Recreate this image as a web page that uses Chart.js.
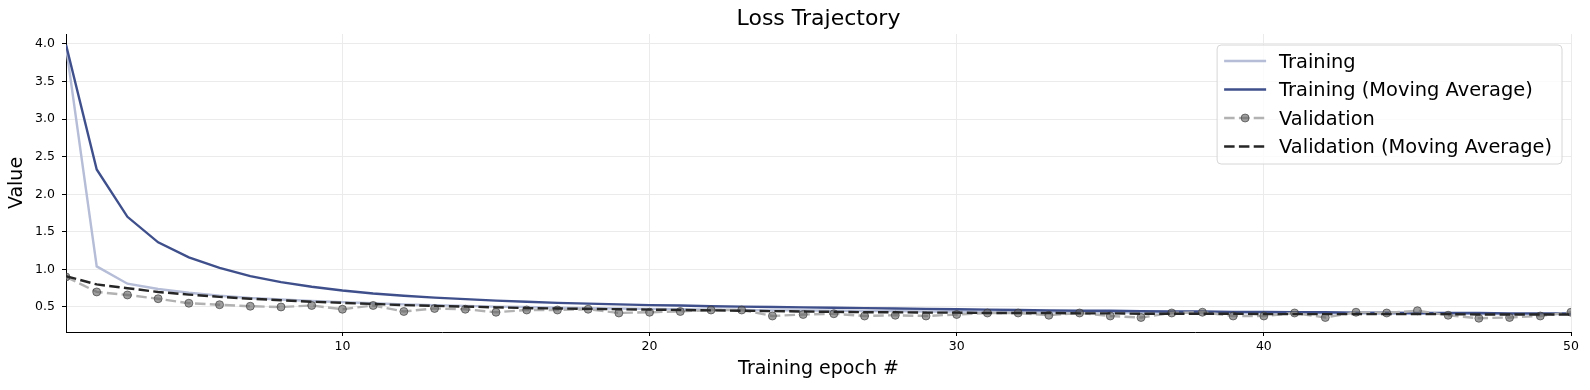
<!DOCTYPE html>
<html>
<head>
<meta charset="utf-8">
<title>Loss Trajectory</title>
<script src="https://cdn.jsdelivr.net/npm/chart.js@4.4.1/dist/chart.umd.min.js"></script>
<style>
  html, body { margin: 0; padding: 0; background: #fff; }
  #wrap { width: 1590px; height: 390px; }
</style>
</head>
<body>
<div id="wrap"><canvas id="loss-chart" width="1590" height="390"></canvas></div>
<script>
"use strict";

var epochs = [1, 2, 3, 4, 5, 6, 7, 8, 9, 10,
  11, 12, 13, 14, 15, 16, 17, 18, 19, 20,
  21, 22, 23, 24, 25, 26, 27, 28, 29, 30,
  31, 32, 33, 34, 35, 36, 37, 38, 39, 40,
  41, 42, 43, 44, 45, 46, 47, 48, 49, 50];

var training = [3.97, 1.04, 0.81, 0.74, 0.69, 0.65, 0.62, 0.60, 0.58, 0.565,
  0.55, 0.535, 0.525, 0.515, 0.505, 0.50, 0.49, 0.485, 0.48, 0.475,
  0.47, 0.465, 0.46, 0.455, 0.455, 0.45, 0.445, 0.445, 0.44, 0.44,
  0.435, 0.435, 0.43, 0.43, 0.43, 0.425, 0.425, 0.42, 0.42, 0.42,
  0.415, 0.415, 0.415, 0.41, 0.41, 0.41, 0.41, 0.405, 0.405, 0.405];

var training_avg = [3.99, 2.33, 1.70, 1.36, 1.16, 1.02, 0.91, 0.83, 0.77, 0.72,
  0.68, 0.65, 0.625, 0.605, 0.585, 0.57, 0.555, 0.545, 0.535, 0.525,
  0.52, 0.51, 0.505, 0.50, 0.495, 0.49, 0.485, 0.48, 0.475, 0.47,
  0.465, 0.46, 0.455, 0.45, 0.45, 0.445, 0.44, 0.44, 0.435, 0.435,
  0.43, 0.43, 0.425, 0.425, 0.42, 0.42, 0.42, 0.415, 0.415, 0.415];

var validation = [0.90, 0.70, 0.66, 0.61, 0.55, 0.53, 0.51, 0.50, 0.52, 0.47,
  0.52, 0.44, 0.48, 0.47, 0.43, 0.46, 0.46, 0.47, 0.42, 0.43,
  0.44, 0.46, 0.46, 0.38, 0.40, 0.41, 0.38, 0.39, 0.38, 0.40,
  0.42, 0.42, 0.39, 0.42, 0.38, 0.36, 0.42, 0.43, 0.38, 0.38,
  0.42, 0.36, 0.43, 0.42, 0.45, 0.39, 0.35, 0.36, 0.38, 0.43];

var validation_avg = [0.91, 0.80, 0.75, 0.70, 0.665, 0.635, 0.61, 0.59, 0.57, 0.555,
  0.54, 0.525, 0.515, 0.505, 0.495, 0.485, 0.48, 0.475, 0.47, 0.465,
  0.46, 0.455, 0.45, 0.445, 0.44, 0.435, 0.43, 0.43, 0.425, 0.425,
  0.42, 0.42, 0.42, 0.415, 0.415, 0.41, 0.41, 0.41, 0.41, 0.405,
  0.405, 0.405, 0.405, 0.405, 0.405, 0.405, 0.40, 0.40, 0.40, 0.40];

var x_ticks = [10, 20, 30, 40, 50];
var y_ticks = [0.5, 1.0, 1.5, 2.0, 2.5, 3.0, 3.5, 4.0];

var colors = {
  training: "rgb(181, 189, 215)",
  training_avg: "rgb(62, 79, 139)",
  validation: "rgb(178, 178, 178)",
  validation_avg: "rgb(38, 38, 38)",
  marker: "rgba(95, 95, 95, 0.6)",
  marker_edge: "rgba(50, 50, 50, 0.6)",
  grid: "rgb(235, 235, 235)"
};

var dash = [10.5, 4.3];

Chart.defaults.font.family = "'DejaVu Sans', sans-serif";
Chart.defaults.color = "#000";

function points(values) {
  return values.map(function(v, i) { return {x: epochs[i], y: v}; });
}

// title drawn over the axes centre, like the original
var title_text = {
  id: "title_text",
  afterDraw: function(chart) {
    var ctx = chart.ctx;
    var area = chart.chartArea;
    ctx.save();
    ctx.font = "22px 'DejaVu Sans'";
    ctx.fillStyle = "#000";
    ctx.textAlign = "center";
    ctx.textBaseline = "middle";
    ctx.fillText("Loss Trajectory", (area.left + area.right) / 2, 19);
    ctx.restore();
  }
};

// framed legend inside the top right of the plot
var legend_box = {
  id: "legend_box",
  afterDraw: function(chart) {
    var ctx = chart.ctx;
    var area = chart.chartArea;
    var sets = chart.data.datasets;
    var row_h = 28.5;
    ctx.save();
    ctx.font = "19.4px 'DejaVu Sans'";
    var text_w = 0;
    sets.forEach(function(ds) {
      text_w = Math.max(text_w, ctx.measureText(ds.label).width);
    });
    var w = 7 + 42 + 13 + text_w + 10;
    var h = sets.length * row_h + 5;
    var right = area.right - 9;
    var top = area.top + 11;
    var left = right - w;

    ctx.beginPath();
    ctx.roundRect(left, top, w, h, 4);
    ctx.fillStyle = "rgba(255, 255, 255, 0.8)";
    ctx.fill();
    ctx.lineWidth = 1;
    ctx.strokeStyle = "rgb(214, 214, 214)";
    ctx.stroke();

    sets.forEach(function(ds, i) {
      var y = top + 16 + i * row_h;
      var x0 = left + 7;
      var x1 = x0 + 42;
      ctx.setLineDash(ds.borderDash || []);
      ctx.strokeStyle = ds.borderColor;
      ctx.lineWidth = ds.borderWidth;
      ctx.beginPath();
      ctx.moveTo(x0, y);
      ctx.lineTo(x1, y);
      ctx.stroke();
      ctx.setLineDash([]);
      if (ds.pointRadius > 0) {
        ctx.beginPath();
        ctx.arc((x0 + x1) / 2, y, ds.pointRadius, 0, Math.PI * 2);
        ctx.fillStyle = ds.pointBackgroundColor;
        ctx.fill();
        ctx.lineWidth = ds.pointBorderWidth;
        ctx.strokeStyle = ds.pointBorderColor;
        ctx.stroke();
      }
      ctx.fillStyle = "#000";
      ctx.textAlign = "left";
      ctx.textBaseline = "middle";
      ctx.fillText(ds.label, x1 + 13, y + 1.5);
    });
    ctx.restore();
  }
};

function init_chart(canvas) {
  return new Chart(canvas, {
    type: "line",
    data: {
      datasets: [
        {
          label: "Training",
          data: points(training),
          borderColor: colors.training,
          borderWidth: 2.4,
          pointRadius: 0,
          tension: 0,
          order: 4
        },
        {
          label: "Training (Moving Average)",
          data: points(training_avg),
          borderColor: colors.training_avg,
          borderWidth: 2.4,
          pointRadius: 0,
          tension: 0,
          order: 3
        },
        {
          label: "Validation",
          data: points(validation),
          borderColor: colors.validation,
          borderWidth: 2.4,
          borderDash: dash,
          pointRadius: 4,
          pointBorderWidth: 1,
          pointBackgroundColor: colors.marker,
          pointBorderColor: colors.marker_edge,
          tension: 0,
          order: 2
        },
        {
          label: "Validation (Moving Average)",
          data: points(validation_avg),
          borderColor: colors.validation_avg,
          borderWidth: 2.4,
          borderDash: dash,
          pointRadius: 0,
          tension: 0,
          order: 1
        }
      ]
    },
    options: {
      responsive: false,
      animation: false,
      layout: { padding: { top: 34, right: 19, left: 0, bottom: 0 } },
      plugins: {
        legend: { display: false },
        tooltip: { enabled: false },
        title: { display: false }
      },
      scales: {
        x: {
          type: "linear",
          min: 1,
          max: 50,
          afterBuildTicks: function(axis) {
            axis.ticks = x_ticks.map(function(v) { return {value: v}; });
          },
          afterFit: function(axis) { axis.height = 58; },
          grid: { color: colors.grid, lineWidth: 1, tickLength: 4, tickColor: "#000", tickWidth: 1 },
          border: { color: "#000", width: 1 },
          ticks: { color: "#000", font: { size: 12.5 }, padding: 3.5, maxRotation: 0, autoSkip: false },
          title: {
            display: true,
            text: "Training epoch #",
            color: "#000",
            font: { size: 19 },
            padding: { top: 0, bottom: 9.4 }
          }
        },
        y: {
          type: "linear",
          min: 0.167,
          max: 4.133,
          afterBuildTicks: function(axis) {
            axis.ticks = y_ticks.map(function(v) { return {value: v}; });
          },
          afterFit: function(axis) { axis.width = 66; },
          grid: { color: colors.grid, lineWidth: 1, tickLength: 4, tickColor: "#000", tickWidth: 1 },
          border: { color: "#000", width: 1 },
          ticks: {
            color: "#000",
            font: { size: 12.5 },
            padding: 7,
            callback: function(v) { return v.toFixed(1); }
          },
          title: {
            display: true,
            text: "Value",
            color: "#000",
            font: { size: 19 },
            padding: { top: 5.4, bottom: 0 }
          }
        }
      }
    },
    plugins: [title_text, legend_box]
  });
}

init_chart(document.getElementById("loss-chart"));
</script>
</body>
</html>
